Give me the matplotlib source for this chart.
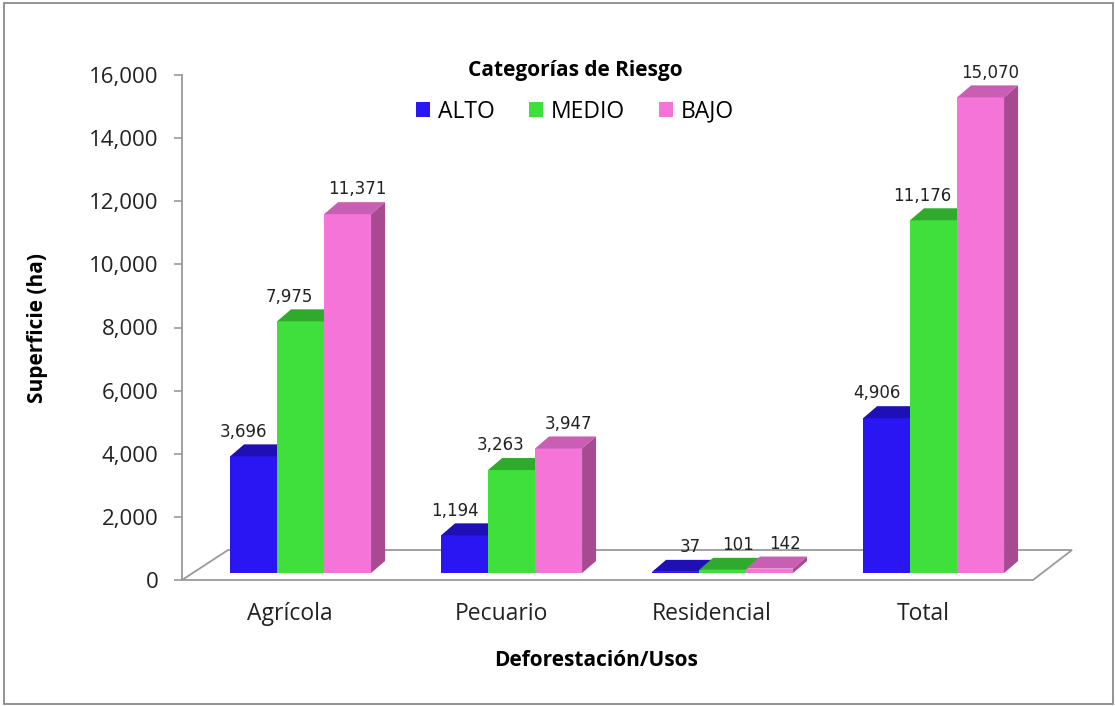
import matplotlib.pyplot as plt
from matplotlib.patches import Polygon, Patch, Rectangle

# Datos
categorias = ['Agrícola', 'Pecuario', 'Residencial', 'Total']
series = ['ALTO', 'MEDIO', 'BAJO']
alto = [3696, 1194, 37, 4906]
medio = [7975, 3263, 101, 11176]
bajo = [11371, 3947, 142, 15070]
valores = [alto, medio, bajo]
yticks = [0, 2000, 4000, 6000, 8000, 10000, 12000, 14000, 16000]

# Colores (frente, tapa, lateral)
col_frente = ['#2a16f2', '#40e03c', '#f474d8']
col_tapa = ['#1e10b4', '#2faa2c', '#c85fb3']
col_lado = ['#1a0c90', '#25902a', '#a84a92']
gris = '#9a9a9a'
fuente = 'Open Sans'

W, H = 1115, 706
fig = plt.figure(figsize=(W / 100, H / 100), dpi=100)
ax = fig.add_axes([182 / W, 1 - 580 / H, (1085 - 182) / W, (580 - 75) / H])
ax.set_xlim((182 - 290) / 211, (1085 - 290) / 211)
ax.set_ylim(0, 16000)

# Pseudo 3D
w = 47 / 211
dx = 14 / 211
dy = 12 / 31.5 * 1000
base = 220
# desplazamiento horizontal de las etiquetas (px) por serie
desp = [-10, -11, 10]

# Piso
piso = Polygon([(ax.get_xlim()[0], 0), ((228 - 290) / 211, 950),
                ((1072 - 290) / 211, 950), ((1033 - 290) / 211, 0)],
               closed=True, facecolor='white', edgecolor=gris, lw=1.3,
               zorder=1, clip_on=False)
ax.add_patch(piso)

for i in range(len(categorias)):
    for j in range(len(series)):
        v = valores[j][i]
        x0 = i + 0.05 + (j - 1.5) * w
        z = 2 + j
        ax.bar(x0, v, width=w, bottom=base, align='edge',
               color=col_frente[j], zorder=z)
        top = base + v
        ax.add_patch(Polygon([(x0, top), (x0 + w, top), (x0 + w + dx, top + dy),
                              (x0 + dx, top + dy)], closed=True,
                             facecolor=col_tapa[j], edgecolor='none', zorder=z))
        if j == len(series) - 1:
            ax.add_patch(Polygon([(x0 + w, base), (x0 + w + dx, base + dy),
                                  (x0 + w + dx, top + dy), (x0 + w, top)],
                                 closed=True, facecolor=col_lado[j],
                                 edgecolor='none', zorder=z))
        off = 15 if v < 500 else desp[j]
        ax.text(x0 + w / 2 + off / 211, top + dy + 120, f'{v:,}',
                ha='center', va='bottom', fontsize=12, color='#222222',
                family='DejaVu Sans', zorder=10)

# Ejes
for s in ['top', 'right', 'bottom']:
    ax.spines[s].set_visible(False)
ax.spines['left'].set_color(gris)
ax.spines['left'].set_linewidth(1.3)
ax.set_yticks(yticks)
ax.set_yticklabels([f'{t:,}' for t in yticks], family=fuente, fontsize=16,
                   color='#222222')
ax.tick_params(axis='y', length=6, color=gris, width=1.2, pad=11)
ax.set_xticks(range(len(categorias)))
ax.set_xticklabels(categorias, family=fuente, fontsize=16.5, color='#222222')
ax.tick_params(axis='x', length=0, pad=16)

fig.text(38 / W, 1 - 328 / H, 'Superficie (ha)', rotation=90, ha='center',
         va='center', family=fuente, fontweight='bold', fontsize=15)
fig.text(596 / W, 1 - 661 / H, 'Deforestación/Usos', ha='center',
         va='center', family=fuente, fontweight='bold', fontsize=15)

# Leyenda
handles = [Patch(facecolor=c, edgecolor='none') for c in col_frente]
leg = fig.legend(handles, series, loc='center', bbox_to_anchor=(575 / W, 1 - 92 / H),
                 ncol=3, frameon=False, title='Categorías de Riesgo',
                 prop={'family': fuente, 'size': 16.5}, handlelength=0.6,
                 handleheight=0.6, handletextpad=0.35, columnspacing=1.5,
                 borderpad=0.2, labelspacing=0.8)
leg.get_title().set_fontfamily(fuente)
leg.get_title().set_fontweight('bold')
leg.get_title().set_fontsize(15)

# Marco
fig.patches.append(Rectangle((4 / W, 2 / H), 1109 / W, 701 / H, fill=False,
                             edgecolor='#8a8a8a', lw=1.3,
                             transform=fig.transFigure, figure=fig))

fig.savefig('out.png', dpi=100)
